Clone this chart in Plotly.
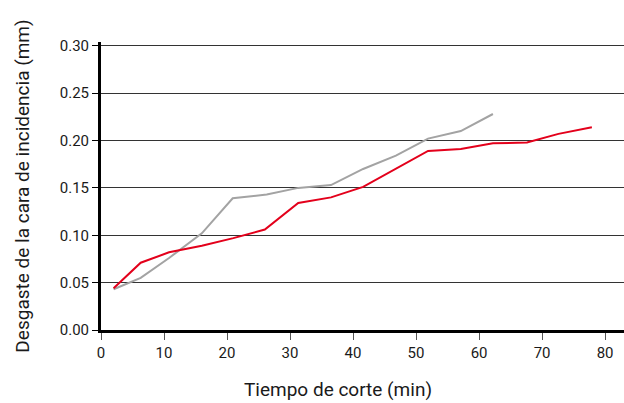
import plotly.graph_objects as go

red_x = [2, 6.3, 10.8, 16, 21, 26, 31.3, 36.5, 41.6, 46.8, 51.9, 57.1, 62.2, 67.6, 72.6, 77.9]
red_y = [0.044, 0.071, 0.082, 0.089, 0.097, 0.106, 0.134, 0.140, 0.151, 0.170, 0.189, 0.191, 0.197, 0.198, 0.207, 0.214]

gray_x = [2, 6.3, 10.8, 16, 20.9, 26.3, 31.3, 36.5, 41.6, 46.8, 51.9, 57.1, 62.2]
gray_y = [0.043, 0.055, 0.076, 0.102, 0.139, 0.143, 0.150, 0.153, 0.170, 0.184, 0.202, 0.210, 0.228]

x_ticks = [0, 10, 20, 30, 40, 50, 60, 70, 80]
y_ticks = [0.00, 0.05, 0.10, 0.15, 0.20, 0.25, 0.30]

FONT = "Roboto"

fig = go.Figure()
fig.add_trace(go.Scatter(x=gray_x, y=gray_y, mode="lines",
                         line=dict(color="#a3a3a3", width=2), showlegend=False))
fig.add_trace(go.Scatter(x=red_x, y=red_y, mode="lines",
                         line=dict(color="#e3001b", width=2), showlegend=False))

fig.update_layout(
    width=624, height=403,
    margin=dict(l=101, r=0, t=42, b=73),
    paper_bgcolor="white", plot_bgcolor="white",
    font=dict(family=FONT, color="#1a1a1a", size=15),
    xaxis=dict(range=[0, 83], tickvals=x_ticks, ticktext=[str(v) for v in x_ticks],
               showgrid=False, zeroline=False, showline=True, linecolor="black", linewidth=3,
               ticks="outside", ticklen=7, tickcolor="#555", tickwidth=1,
               tickfont=dict(size=15, family=FONT)),
    yaxis=dict(range=[0, 0.304], tickvals=y_ticks, ticktext=[f"{v:.2f}" for v in y_ticks],
               showgrid=True, gridcolor="#333", gridwidth=1, zeroline=False,
               showline=True, linecolor="black", linewidth=3,
               ticks="outside", ticklen=6, tickcolor="black", tickwidth=1,
               tickfont=dict(size=15, family=FONT),
               title=dict(text="Desgaste de la cara de incidencia (mm)", font=dict(size=19, family=FONT), standoff=26)),
    annotations=[dict(text="Tiempo de corte (min)", xref="paper", yref="paper",
                      x=0.453, y=-0.205, xanchor="center", yanchor="middle", showarrow=False,
                      font=dict(size=19, family=FONT, color="#1a1a1a"))],
)

fig.write_html("out.html", config={"displayModeBar": False},
               post_script="document.body.style.margin='0';")
